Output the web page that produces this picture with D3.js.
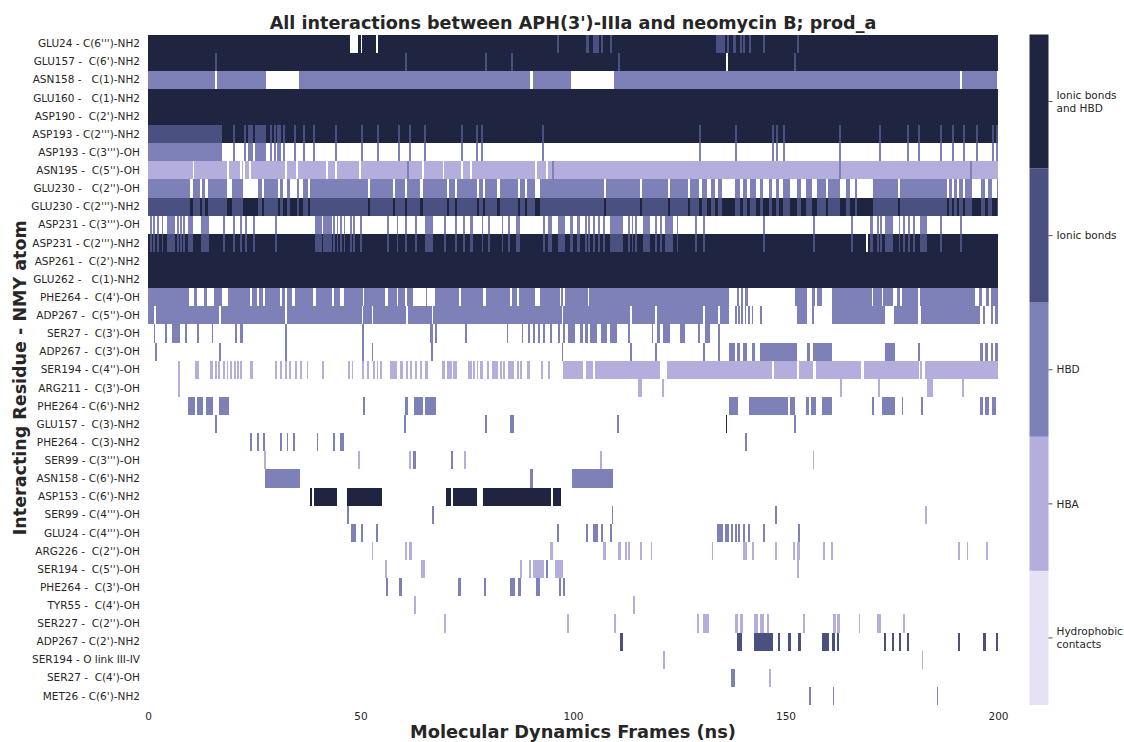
<!DOCTYPE html>
<html>
<head>
<meta charset="utf-8">
<script src="https://cdn.jsdelivr.net/npm/d3@7"></script>
<style>
  html, body { margin: 0; padding: 0; background: #ffffff; }
  text { font-family: "DejaVu Sans", sans-serif; fill: #262626; }
</style>
</head>
<body>
<svg id="chart" width="1124" height="742"></svg>
<script>
// ---------------- DATA ----------------
const chartTitle = "All interactions between APH(3')-IIIa and neomycin B; prod_a";
const xTitle = "Molecular Dynamics Frames (ns)";
const yTitle = "Interacting Residue - NMY atom";
const xTicks = [0, 50, 100, 150, 200];
const xDomain = [0, 200];

const rowLabels = [
  "GLU24 - C(6''')-NH2", "GLU157 -  C(6')-NH2", "ASN158 -   C(1)-NH2", "GLU160 -   C(1)-NH2",
  "ASP190 -  C(2')-NH2", "ASP193 - C(2''')-NH2", "ASP193 - C(3''')-OH", "ASN195 -  C(5'')-OH",
  "GLU230 -   C(2'')-OH", "GLU230 - C(2''')-NH2", "ASP231 - C(3''')-OH", "ASP231 - C(2''')-NH2",
  "ASP261 -  C(2')-NH2", "GLU262 -   C(1)-NH2", "PHE264 -  C(4')-OH", "ADP267 -  C(5'')-OH",
  "SER27 -  C(3')-OH", "ADP267 -  C(3')-OH", "SER194 - C(4'')-OH", "ARG211 -  C(3')-OH",
  "PHE264 - C(6')-NH2", "GLU157 -  C(3)-NH2", "PHE264 -  C(3)-NH2", "SER99 - C(3''')-OH",
  "ASN158 - C(6')-NH2", "ASP153 - C(6')-NH2", "SER99 - C(4''')-OH", "GLU24 - C(4''')-OH",
  "ARG226 -  C(2'')-OH", "SER194 -  C(5'')-OH", "PHE264 -  C(3')-OH", "TYR55 -  C(4')-OH",
  "SER227 -  C(2'')-OH", "ADP267 - C(2')-NH2", "SER194 - O link III-IV", "SER27 -  C(4')-OH",
  "MET26 - C(6')-NH2"
];

// interaction codes: 4 = ionic bonds and HBD, 3 = ionic bonds, 2 = HBD, 1 = HBA, 0 = hydrophobic, -1 = no contact
const typeCodes = [4, 3, 2, 1, 0];
const typeNames = ["Ionic bonds\nand HBD", "Ionic bonds", "HBD", "HBA", "Hydrophobic\ncontacts"];
const typeColors = ["#1f2440", "#4a5181", "#7e80b8", "#b4aedd", "#e6e1f5"];
const noContactColor = "#ffffff";
const thinWidthNs = 0.42; // duration of a single-frame event (ns)

// events are [start, end] in ns, or a single time (ns) for a single-frame event
const asp193Lines = [20, 22.6, [23.5, 24.7], [25.2, 27.8], 28.7, 29.6, [30.4, 31.3], 31.8, 34.4, 36.5, 38.8, 44, 50.1, 53.9, 58.8, 61.4, 64.9, 73.6, 77.2, 78.4, 92.7, 129.6, 138.1, 146.8, 147.8, [149.4, 149.9], 162.6, 172, 178.6, 181.2, 186.4, 189.2, 191.8, 194.8, 198.6, 199.6];

const glu230Switch = [[9.9, 10.6], 12.2, [13.4, 14.1], [18.6, 19.8], [22.4, 25.9], [26.8, 27.3], [30.6, 31.1], [31.8, 32.7], [33.4, 35.1], [35.5, 36.5], [37.6, 38.1], [51.8, 52.2], [57.6, 58.1], [60.5, 60.9], [64, 64.7], 70.4, 72.2, 77.4, [78.8, 79.3], [82.1, 82.8], 87.1, [88.7, 89.2], [91.1, 92.2], 107.3, 115.8, 122.4, 127.1, [129.6, 130.4], [131.5, 132.5], [133.4, 134.1], [135.1, 138.1], [139.3, 140], [140.9, 141.6], [143.1, 144], [144.7, 146.1], [146.8, 147.8], [148.5, 149.4], [151.1, 152.7], [153.6, 154.8], [156.2, 157.4], 159.5, [162.8, 164.2], [165.2, 166.4], [166.8, 170.6], [176.5, 177], 188, 189.2, 190.4, 191.8, [193.9, 196], [196.9, 197.6], [198.6, 199.8]];

const asp231Lines = [0.5, 1.2, 2.1, 3.2, [4.5, 6.4], 6.8, 7.5, 8.3, [9.5, 10.7], [12.5, 14.4], 17.7, 20, 21.6, 22.8, 24.7, 29.9, [39.3, 40.9], [41.2, 43.2], 43.6, 44.4, 45.2, 46, 47.5, 48.3, 49.9, 56.2, 58.5, 60.5, 62.8, [65.2, 67], 69.6, 72.2, 74.2, [75.8, 76.5], 78.5, 80, 83.2, 84.8, [86.6, 87.5], 93, [94.2, 95], [96.5, 98.1], [99.3, 100.1], [100.9, 101.6], 102.8, 103.6, 104.8, 105.9, 107.1, [108.7, 111.8], 113, 113.8, 114.6, [116.5, 118.1], 119.3, 120.5, [121.6, 123.6], 124.4, 128.7, 130.6, 144.8, 156.5, 165.5, [169.9, 170.7], 171.5, 172.2, [173.4, 175.4], 176.6, 177.7, 178.9, 180.1, [181.6, 183.2], 186.4, 191.1];

const fullRun = [[0, 200]];

// one entry per row: list of layers [code, events], drawn in order
const interactions = [
  [[4, fullRun], [-1, [[47.5, 49.5], [50, 50.4], [53.6, 54]]], [3, [96.2, [103, 103.8], [104.7, 106.1], 106.6, 108.7, [133.6, 135.8], [136.2, 136.7], [137.6, 138.4], 139.3, 140, 141.4, 144.7, 152.7]]],
  [[4, fullRun], [3, [15.8, 60.5, 79.3, [85.4, 85.9], 110.6, 152]], [-1, [136]]],
  [[2, [[0, 15.8], [16.2, 27.8], [35.5, 89.9], [90.6, 99.5], [109.6, 191], [191.5, 199.8]]]],
  [[4, fullRun]],
  [[4, fullRun]],
  [[3, [[0, 17.4]]], [4, [[17.4, 200]]], [3, asp193Lines]],
  [[2, [[0, 17.4]]], [2, asp193Lines]],
  [[1, fullRun], [-1, [10.5, [18.5, 19], 21.6, 22.3, 23.8, 32.3, 34.9, 41.9, 44, 49.7, 64.5, 69.3, 73.7, 75.8, 91.1, 93.7]], [2, [61, 95, 162.6, 193.4]]],
  [[2, fullRun], [-1, glu230Switch]],
  [[3, fullRun], [4, glu230Switch]],
  [[2, asp231Lines]],
  [[4, fullRun], [3, asp231Lines], [-1, [168.9]]],
  [[4, fullRun]],
  [[4, fullRun]],
  [[2, [[0, 9.7], [10.8, 11.6], [13.2, 13.8], [15.5, 17.3], [18.9, 24], [24.4, 25.6], [26, 27.1], [27.5, 31.1], [31.5, 32.2], [32.6, 33.8], [34.6, 38.9], [39.5, 43.2], [43.8, 45.2], [46, 50.7], [50.9, 55.8], [56.5, 58.5], [58.9, 60.5], [60.9, 62.4], 65.3, [67.5, 73.1], [73.6, 78.9], [79.5, 85.2], [85.6, 86.8], [87.3, 91], [92.2, 96.9], [97.1, 97.7], [98.1, 103.5], [103.8, 136.8], 138.7, 139.6, [140.5, 141.2], [152.2, 155.1], [156.2, 156.9], [157.5, 158.5], [160.9, 170.3], [170.7, 172.6], [173, 175.4], [176.2, 177], [177.4, 181.2], [181.6, 194.7], [195.5, 196.3], [197.1, 197.9], [198.3, 200]]]],
  [[2, [[0, 1.5], [1.9, 16.7], [17.1, 32.2], [32.6, 50.3], [50.6, 52.6], [53, 60.8], [61.2, 66.9], [67.1, 97.3], [97.7, 113.4], [113.8, 119.3], [119.7, 130.7], [131.1, 134.2], [134.6, 136.8], 138.1, 138.8, 139.6, 140.4, 141.2, 142, 144, [152.6, 155], [156.2, 156.6], [160.9, 173.4], [175.5, 181.2], [181.8, 195.8], [196.5, 196.9], [198.4, 198.8], [199.2, 200]]]],
  [[2, [1.3, [4, 4.4], [5.6, 7.5], 8.7, [11.6, 12.1], [15, 15.4], [20.5, 20.9], [21.6, 22.3], 32.2, 50.3, [66.4, 67.1], [67.5, 67.9], [74.6, 75], 84.4, [87.9, 88.3], [89.5, 89.9], [90.7, 91.1], [91.8, 92.2], [93, 93.4], [94.6, 95], [96.5, 96.9], [97.7, 98.1], [98.9, 100.4], [101.6, 102.4], [102.8, 103.6], [104, 105.6], [106.7, 107.9], [108.7, 110.3], 113, 118.5, [119.7, 120.5], [121.2, 122.8], [125.2, 126.4], 129.5, [131.1, 132.2], 134.2]]],
  [[2, [1.6, [16.7, 16.9], 32.2, 50.3, [52.6, 53], 66.7, 97.3, 113.4, 119.3, 130.7, 134.2, [136.8, 138.1], [138.5, 139.3], [140.1, 140.9], [142, 142.8], [144, 152.6], [155, 155.8], [156.4, 160.9], [173.4, 175.8], [181.2, 181.6], [195.8, 196.5], [196.9, 197.7], [198.3, 198.9], [199.3, 200]]]],
  [[1, [[7.1, 7.5], [11.1, 11.9], [14.6, 15.2], 15.8, [16.5, 16.9], 17.7, 18.5, 19.3, 20.2, 20.9, [21.6, 22], [24, 24.6], 29.9, 31.1, 32.2, 33.2, 34.6, 35.8, 37.3, 40.9, 47.1, 47.9, [50.3, 50.8], 51.5, 53, [53.8, 54.2], [54.6, 55], [57, 58.5], [59.3, 60.1], [60.8, 61.2], [61.6, 62], [62.8, 63.1], [64, 64.4], [65.2, 65.9], [69.1, 69.9], [70.3, 71.5], [71.8, 72.6], [75.4, 76.2], 76.5, 77.3, [78.1, 78.8], 79.7, [80.9, 82.4], 82.8, [83.6, 84], [84.8, 86], [86.8, 87.2], [87.5, 87.9], [89.1, 89.9], 92.5, 94.1, [97.6, 102.4], [103, 104.6], [105.2, 120.5], [122.1, 146.8], [147.3, 152.6], [153.2, 156.5], [157.1, 167.8], [168.5, 181.3], 181.6, [182.9, 200]]]],
  [[1, [[7.1, 7.5], [115.4, 116.2], 120.9, 162.8, 171.8, [183.2, 184.8], 191.5]]],
  [[2, [[9.5, 11], [11.5, 13], [13.6, 15.2], [16.7, 19.1], [50.5, 51.1], [60.5, 61.1], [62.6, 64.6], [65.2, 67.7], [136.8, 138.8], [141.4, 150.7], [151.1, 152.2], [154.8, 155.6], [156.1, 157.2], [158.7, 160.9], [170.3, 170.8], [172.8, 175.8], [177.3, 177.7], [181.8, 182.3], [195.8, 196.5], [196.9, 197.9], [198.5, 199.5]]]],
  [[2, [15.8, 60.3, 79.3, [85.2, 86], 110.4, 152]], [4, [135.9]]],
  [[2, [[24, 24.4], [25.6, 26], [27.1, 27.5], [31.1, 31.5], [32.6, 33], [34.2, 34.6], [39.7, 40.1], [43.6, 44], [45.2, 46.1], 140.5]]],
  [[1, [27.3, 49.5, 61.4, 74.4, 106.4, 156.4]], [2, [[62.4, 63.1], 71.3]]],
  [[2, [[27.5, 35.8], [89.9, 90.6], [99.7, 109.5]]]],
  [[4, [[38.1, 38.5], [39.1, 44.4], [46.8, 55.1], [70.1, 71.2], [71.7, 77.5], [78.8, 94.8], [95.2, 97.1]]]],
  [[2, [[46.8, 47.1], 66.9, 109.1, 147.5]], [1, [182.8]]],
  [[2, [[47.7, 48.9], [50, 50.5], [53.6, 54.2], 96.3, [103.1, 103.6], [104.8, 105.9], [106.7, 107.1], [108.7, 109.1], [133.8, 135.3], [135.7, 136.8], [137.1, 137.6], [138, 138.5], [138.9, 139.3], [140.1, 140.5], [141.2, 141.6], [144.8, 145.2], [153, 153.4]]]],
  [[1, [[52.6, 53], [60.5, 60.9], [61.5, 62], [94.6, 95.2], [107.1, 107.8], [110.7, 111.2], [112.2, 112.6], [113, 113.5], [115.8, 116.2], [118.3, 118.7], [132.6, 133], [140.1, 141], [142, 142.6], [147.5, 148.1], [151.7, 152.2], [152.8, 153.4], [158.9, 159.4], [160.6, 161.1], [190.7, 191.1], [192.6, 193], [197.2, 197.6]]]],
  [[1, [[55.8, 56.2], [64.2, 65.2], [87.5, 87.9], [89.7, 90], [90.7, 93.2], [95.8, 97.7], [152.8, 153.2]]], [2, [[93.6, 94.2]]]],
  [[2, [[56, 56.5], [59.1, 59.7], [73, 73.6], [79.1, 79.5], [85.2, 86.4], [87.1, 87.7], [91.3, 92.2], [96.8, 97.2], [97.6, 98.1]]]],
  [[1, [[62.6, 63.1], [114.2, 114.6]]]],
  [[1, [[69.6, 70.1], [98.7, 99.1], [109.6, 110.1], [129.1, 129.7], [130.5, 132.1], [138.1, 138.9], [139.3, 140.1], [142.6, 143.6], [144, 144.9], [145.6, 146.1], [154, 154.6], [161.1, 161.9], [162, 162.9], [167.2, 167.6], [171.6, 172.5], [177.6, 178]]]],
  [[3, [[111.1, 111.7], [138.5, 139.7], [142.6, 147.1], [148.3, 148.7], [150.7, 151.2], [153, 153.6], [158.5, 160.3], [161, 161.6], [162, 162.6], [173.1, 173.6], [175, 175.5], [176.8, 177.2], [178.5, 179], [190.5, 191.1], [196.5, 197.1], [199.5, 200]]]],
  [[1, [[121.2, 121.6], [182, 182.4]]]],
  [[2, [[137.1, 138.1]]], [1, [[146.2, 146.6]]]],
  [[2, [[155.5, 156], [161.1, 161.5], [185.6, 185.9]]]]
];

// ---------------- CHART ----------------
const svg = d3.select("#chart");
const plot = { left: 148, right: 998, top: 34.5, bottom: 705 };

const x = d3.scaleLinear().domain(xDomain).range([plot.left, plot.right]);
const y = d3.scaleBand().domain(d3.range(rowLabels.length)).range([plot.top, plot.bottom]).padding(0);
const color = d3.scaleOrdinal().domain(typeCodes.concat([-1])).range(typeColors.concat([noContactColor]));

// flatten data into rectangles
const rects = [];
interactions.forEach((layers, row) => {
  layers.forEach(([code, events]) => {
    events.forEach(ev => {
      const s = Array.isArray(ev) ? ev[0] : ev;
      const e = Array.isArray(ev) ? ev[1] : ev + thinWidthNs;
      rects.push({ row, code, s, e });
    });
  });
});

svg.append("g")
  .selectAll("rect")
  .data(rects)
  .join("rect")
  .attr("x", d => x(d.s))
  .attr("y", d => y(d.row))
  .attr("width", d => Math.max(1.6, x(d.e) - x(d.s)))
  .attr("height", y.bandwidth())
  .attr("fill", d => color(d.code))
  .attr("shape-rendering", "crispEdges");

// y tick labels
svg.append("g")
  .selectAll("text")
  .data(rowLabels)
  .join("text")
  .attr("x", 140)
  .attr("y", (d, i) => y(i) + y.bandwidth() / 2)
  .attr("dy", "0.35em")
  .attr("text-anchor", "end")
  .style("white-space", "pre")
  .attr("font-size", 10.5)
  .text(d => d);

// x axis
const xAxis = svg.append("g")
  .attr("transform", `translate(0,${plot.bottom})`)
  .call(d3.axisBottom(x).tickValues(xTicks).tickSize(0).tickPadding(8));
xAxis.select(".domain").remove();
xAxis.selectAll("text").attr("font-size", 10.5).style("font-family", "DejaVu Sans, sans-serif").attr("fill", "#262626");

// titles
svg.append("text")
  .attr("x", 573).attr("y", 28.5)
  .attr("text-anchor", "middle")
  .attr("font-size", 17.6).attr("font-weight", "bold")
  .text(chartTitle);

svg.append("text")
  .attr("x", 573).attr("y", 737.5)
  .attr("text-anchor", "middle")
  .attr("font-size", 17.8).attr("font-weight", "bold")
  .text(xTitle);

svg.append("text")
  .attr("transform", `translate(26,${(plot.top + plot.bottom) / 2 + 8}) rotate(-90)`)
  .attr("text-anchor", "middle")
  .attr("font-size", 17.5).attr("font-weight", "bold")
  .text(yTitle);

// colorbar
const cb = { x: 1029.5, w: 19 };
const cy = d3.scaleBand().domain(typeCodes).range([plot.top, plot.bottom]).padding(0);
const cbar = svg.append("g");
cbar.selectAll("rect")
  .data(typeCodes)
  .join("rect")
  .attr("x", cb.x)
  .attr("y", d => cy(d))
  .attr("width", cb.w)
  .attr("height", cy.bandwidth())
  .attr("fill", d => color(d));

cbar.selectAll("line")
  .data(typeCodes)
  .join("line")
  .attr("x1", cb.x + cb.w).attr("x2", cb.x + cb.w + 4)
  .attr("y1", d => cy(d) + cy.bandwidth() / 2)
  .attr("y2", d => cy(d) + cy.bandwidth() / 2)
  .attr("stroke", "#262626").attr("stroke-width", 0.8);

const cbLabels = cbar.selectAll("text.cbl")
  .data(typeCodes)
  .join("text")
  .attr("class", "cbl")
  .attr("x", cb.x + cb.w + 8)
  .attr("y", d => cy(d) + cy.bandwidth() / 2)
  .attr("font-size", 10.5);

cbLabels.each(function (d, i) {
  const lines = typeNames[i].split("\n");
  const t = d3.select(this);
  lines.forEach((ln, j) => {
    t.append("tspan")
      .attr("x", cb.x + cb.w + 8)
      .attr("dy", j === 0 ? `${0.35 - (lines.length - 1) * 0.6}em` : "1.2em")
      .text(ln);
  });
});
</script>
</body>
</html>
